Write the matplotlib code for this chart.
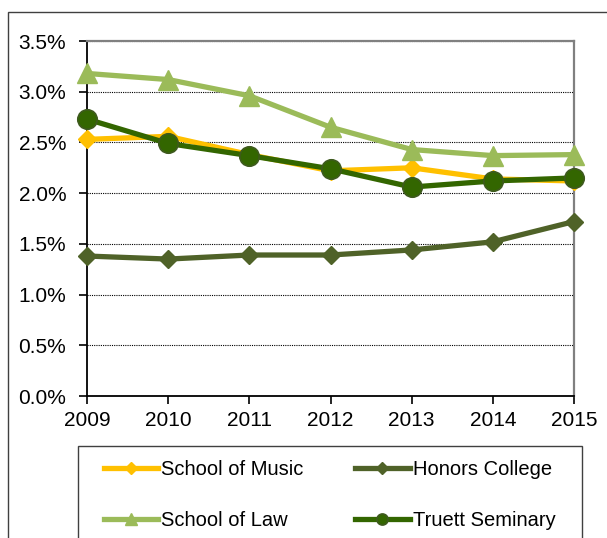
import matplotlib
matplotlib.use("Agg")
import matplotlib.pyplot as plt
from matplotlib.patches import Rectangle
from matplotlib.ticker import FuncFormatter, MultipleLocator

plt.rcParams['font.family'] = ['Liberation Sans', 'DejaVu Sans']

years = [2009, 2010, 2011, 2012, 2013, 2014, 2015]
music = [2.53, 2.56, 2.38, 2.22, 2.25, 2.14, 2.12]
honors = [1.38, 1.35, 1.39, 1.39, 1.44, 1.52, 1.72]
law = [3.18, 3.12, 2.96, 2.65, 2.43, 2.37, 2.38]
truett = [2.73, 2.49, 2.37, 2.24, 2.06, 2.12, 2.15]

labels = ["School of Music", "Honors College", "School of Law", "Truett Seminary"]

W, H = 607, 538
fig = plt.figure(figsize=(W / 100, H / 100), dpi=100)

# outer chart border
fig.patches.append(Rectangle((8 / W, 1 - 12 / H - 600 / H), 700 / W, 600 / H,
                             transform=fig.transFigure, fill=False,
                             edgecolor='#404040', linewidth=1.0))

ax = fig.add_axes([87 / W, (H - 396) / H, (574 - 87) / W, (396 - 41) / H])

lw = 3.8
l1, = ax.plot(years, music, color='#FFC000', lw=lw, marker='D', ms=9,
              mec='#FFC000', zorder=3, label=labels[0], clip_on=False)
l2, = ax.plot(years, honors, color='#4F6228', lw=lw, marker='D', ms=9,
              mec='#4F6228', zorder=3, label=labels[1], clip_on=False)
l3, = ax.plot(years, law, color='#9BBB59', lw=lw, marker='^', ms=15,
              mec='#9BBB59', zorder=3, label=labels[2], clip_on=False)
l4, = ax.plot(years, truett, color='#336600', lw=lw, marker='o', ms=14,
              mec='#3E5A1E', mew=1.2, zorder=4, label=labels[3], clip_on=False)

ax.set_xlim(2009, 2015)
ax.set_ylim(0, 3.5)
ax.yaxis.set_major_locator(MultipleLocator(0.5))
ax.yaxis.set_major_formatter(FuncFormatter(lambda v, p: f"{v:.1f}%"))
ax.set_xticks(years)
ax.set_xticklabels([str(y) for y in years])

ax.grid(axis='y', color='black', linestyle=(0, (1, 1)), linewidth=0.8)
ax.set_axisbelow(True)

for s in ['left', 'bottom']:
    ax.spines[s].set_color('black')
    ax.spines[s].set_linewidth(1.3)
for s in ['right', 'top']:
    ax.spines[s].set_color('#808080')
    ax.spines[s].set_linewidth(1.6)

ax.tick_params(axis='y', direction='out', length=6, width=1.2, pad=9,
               labelsize=15, colors='black')
ax.tick_params(axis='x', direction='out', length=6, width=1.2, pad=5,
               labelsize=15, colors='black')

# legend box
fig.patches.append(Rectangle((78 / W, 1 - 446 / H - 200 / H), (582 - 78) / W, 200 / H,
                             transform=fig.transFigure, fill=False,
                             edgecolor='#404040', linewidth=1.0))

order = [0, 2, 1, 3]
leg = fig.legend(handles=[[l1, l2, l3, l4][i] for i in order],
                 labels=[labels[i] for i in order], ncol=2,
                 loc='upper left', bbox_to_anchor=(104 / W, 1 - 460 / H),
                 frameon=False, fontsize=14.5, handlelength=2.7,
                 handletextpad=0.15, columnspacing=2.55, labelspacing=1.6,
                 borderaxespad=0, borderpad=0)
sizes = [6, 8, 6, 8]
for h, s in zip(leg.legend_handles, sizes):
    h.set_markersize(s)

fig.savefig("out.png", dpi=100)
